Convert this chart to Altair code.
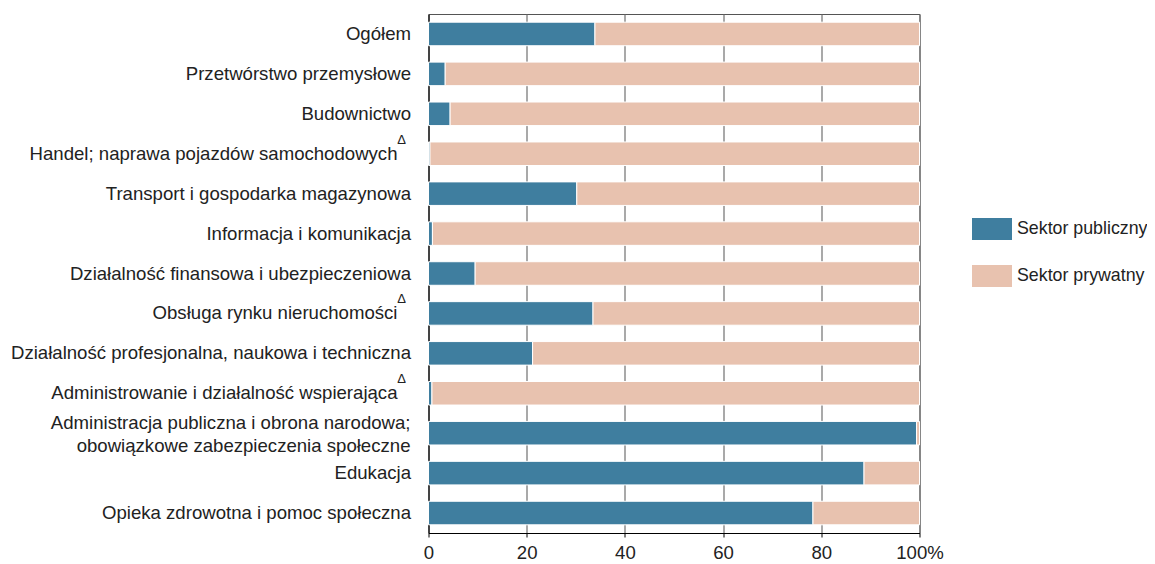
import altair as alt
import pandas as pd

categories = [
    "Ogółem",
    "Przetwórstwo przemysłowe",
    "Budownictwo",
    "Handel; naprawa pojazdów samochodowych",
    "Transport i gospodarka magazynowa",
    "Informacja i komunikacja",
    "Działalność finansowa i ubezpieczeniowa",
    "Obsługa rynku nieruchomości",
    "Działalność profesjonalna, naukowa i techniczna",
    "Administrowanie i działalność wspierająca",
    "Administracja publiczna i obrona narodowa;|obowiązkowe zabezpieczenia społeczne",
    "Edukacja",
    "Opieka zdrowotna i pomoc społeczna",
]
public_share = [33.9, 3.4, 4.4, 0.3, 30.2, 0.8, 9.5, 33.5, 21.2, 0.7, 99.4, 88.7, 78.3]
delta_marked = [
    "Handel; naprawa pojazdów samochodowych",
    "Obsługa rynku nieruchomości",
    "Administrowanie i działalność wspierająca",
]
multiline_marked = [
    "Administracja publiczna i obrona narodowa;|obowiązkowe zabezpieczenia społeczne",
]
sectors = ["Sektor publiczny", "Sektor prywatny"]
colors = ["#3f7e9f", "#e8c2af"]
x_ticks = [0, 20, 40, 60, 80, 100]

rows = []
for c, p in zip(categories, public_share):
    rows.append({"kat": c, "sektor": sectors[0], "val": p, "ord": 0})
    rows.append({"kat": c, "sektor": sectors[1], "val": round(100 - p, 1), "ord": 1})
df = pd.DataFrame(rows)
df_delta = pd.DataFrame({"kat": delta_marked, "sym": ["Δ"] * len(delta_marked)})
df_multi = pd.DataFrame({"kat": multiline_marked})

FONT = "Liberation Sans"
TXT = "#222222"
FS = 18.6

special = delta_marked + multiline_marked
special_list = "[" + ",".join("'" + d + "'" for d in special) + "]"
y_label_expr = f"indexof({special_list}, datum.label) >= 0 ? '' : datum.label"

y_enc = alt.Y(
    "kat:N",
    sort=categories,
    title=None,
    scale=alt.Scale(paddingInner=0.41, paddingOuter=0.205),
    axis=alt.Axis(
        ticks=False,
        labelPadding=18,
        labelLimit=0,
        labelFontSize=FS,
        labelExpr=y_label_expr,
        domainColor="#000000",
        domainWidth=1,
        grid=False,
    ),
)

bars = alt.Chart(df).mark_bar(stroke="white", strokeWidth=1).encode(
    x=alt.X(
        "val:Q",
        stack="zero",
        title=None,
        scale=alt.Scale(domain=[0, 100], nice=False),
        axis=alt.Axis(
            values=x_ticks,
            labelExpr="datum.value == 100 ? '100%' : datum.label",
            grid=True,
            gridColor="#707070",
            gridWidth=1.2,
            tickSize=4,
            tickColor="#000000",
            domainColor="#000000",
            labelPadding=6,
            labelFontSize=FS,
            labelFlush=False,
        ),
    ),
    y=y_enc,
    color=alt.Color(
        "sektor:N",
        scale=alt.Scale(domain=sectors, range=colors),
        legend=alt.Legend(
            title=None,
            orient="none",
            legendX=543.5,
            legendY=195,
            symbolType="M-1,-0.55H1V0.55H-1Z",
            symbolSize=1600,
            symbolStrokeWidth=0,
            symbolOpacity=1,
            labelFontSize=17.8,
            labelOffset=5,
            rowPadding=16,
            labelColor=TXT,
            labelFont=FONT,
            labelLimit=0,
        ),
    ),
    order=alt.Order("ord:Q"),
)

delta_labels = alt.Chart(df_delta).mark_text(
    fontSize=FS, align="right", baseline="middle", color=TXT, font=FONT
).encode(
    y=alt.Y("kat:N", sort=categories),
    x=alt.value(-31),
    text="kat:N",
)

delta_syms = alt.Chart(df_delta).mark_text(
    fontSize=13, dy=-14, align="center", baseline="middle", color=TXT, font=FONT
).encode(
    y=alt.Y("kat:N", sort=categories),
    x=alt.value(-27),
    text="sym:N",
)

multi_labels = alt.Chart(df_multi).transform_calculate(
    lines="split(datum.kat, '|')"
).mark_text(
    fontSize=FS, align="right", baseline="middle", color=TXT, font=FONT,
    lineHeight=23, dy=-10
).encode(
    y=alt.Y("kat:N", sort=categories),
    x=alt.value(-18),
    text="lines:N",
)

chart = (
    alt.layer(bars, delta_labels, delta_syms, multi_labels)
    .properties(
        width=491,
        height=519,
        autosize=alt.AutoSizeParams(type="none"),
        padding={"left": 420.5, "top": 6, "right": 227, "bottom": 30},
    )
    .configure_view(stroke="#555555")
    .configure_axis(labelFont=FONT, labelColor=TXT)
)

chart.save("out.html", embed_options={"renderer": "svg", "actions": False})
